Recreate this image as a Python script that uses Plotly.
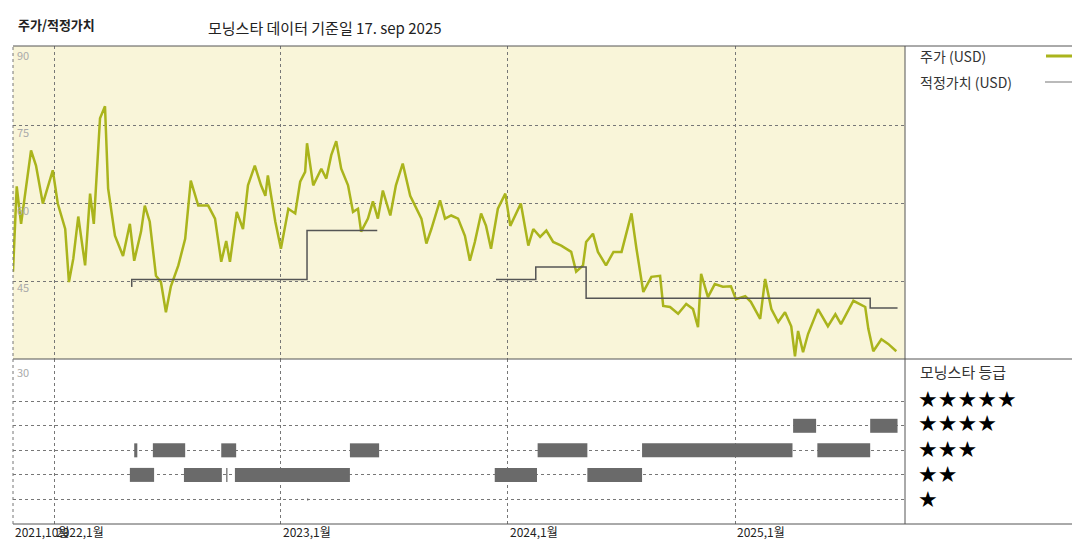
import plotly.graph_objects as go
import pandas as pd

start_date = "2021-10-27"
price_days = [0,6,13,21,29,37,48,60,64,72,84,90,97,105,116,124,130,140,148,153,164,177,188,195,206,212,220,230,238,246,254,266,277,286,298,314,325,335,343,349,360,370,378,389,399,406,410,422,431,443,454,462,470,473,483,496,504,512,520,528,539,547,555,560,571,579,587,595,607,616,627,639,649,657,665,673,687,695,705,716,727,735,743,753,761,769,780,792,800,808,817,829,837,848,858,869,882,898,906,917,922,933,941,954,966,979,987,995,1003,1014,1027,1041,1046,1057,1070,1083,1094,1102,1107,1118,1129,1142,1155,1163,1178,1187,1202,1210,1220,1231,1242,1252,1258,1263,1271,1279,1295,1311,1323,1332,1352,1371,1376,1384,1397,1408,1421]
price_vals = [46.8,63.2,56,63.4,70.1,67.2,59.9,64.7,66.3,59.9,55,44.8,49.3,57.4,48,61.8,56,76.3,78.6,62.8,53.7,49.8,56,48.9,54.5,59.5,56.4,46,44.8,39,44,48,53.1,64.3,59.5,59.5,57,48.7,52.7,48.7,58.3,55,63.4,67.2,63.4,61.4,65.3,56.4,51.2,58.9,58,64.1,66,71.5,63.4,66.6,64.7,69.2,71.9,66.6,63.4,58.3,58.9,54.5,57,60.3,57,62.4,57.6,63.4,67.6,61.4,58.9,57,52.2,55,60.5,57,57.6,57,53.7,48.9,52.5,58,55.6,51.2,58.9,61.8,55.6,57.6,59.9,51.8,55,53.5,54.7,52.5,51.8,50.6,46.8,48,52.5,54.1,50.6,48,50.6,50.6,54.5,58,51.2,42.9,45.8,46,40.2,40,38.7,40.6,39.6,36.1,46.4,41.9,44.4,43.9,44,41.5,42.1,41,37.7,45.4,39.6,37.1,39,36.3,30.5,35.4,31.3,34.8,39.6,36.3,38.6,36.7,41.2,40,35.8,31.5,33.8,32.9,31.5]
assert len(price_days) == len(price_vals)
price_dates = pd.to_datetime(start_date) + pd.to_timedelta(price_days, unit="D")

fair_segments = [
    (["2022-05-05", "2022-05-06", "2023-02-12", "2023-06-05"], [44.0, 45.3, 54.7, 54.7]),
    (["2023-12-13", "2024-02-15", "2024-05-06", "2025-08-06", "2025-09-19"], [45.3, 47.7, 41.7, 39.8, 39.8]),
]

rating_segments = {
    3: [("2022-05-10", "2022-05-15"), ("2022-06-09", "2022-07-31"), ("2022-09-27", "2022-10-21"),
        ("2023-04-22", "2023-06-08"), ("2024-02-18", "2024-05-08"), ("2024-08-04", "2025-04-03"),
        ("2025-05-13", "2025-08-06")],
    2: [("2022-05-03", "2022-06-11"), ("2022-07-29", "2022-09-28"), ("2022-10-05", "2022-10-07"),
        ("2022-10-19", "2023-04-22"), ("2023-12-11", "2024-02-17"), ("2024-05-08", "2024-08-04")],
    4: [("2025-04-04", "2025-05-11"), ("2025-08-06", "2025-09-19")],
    1: [("2023-02-12", "2023-02-14")],
}

year_ticks = ["2022-01-01", "2023-01-01", "2024-01-01", "2025-01-01"]
year_labels = ["2022,1월", "2023,1월", "2024,1월", "2025,1월"]
price_ticks = [90, 75, 60, 45, 30]
legend_names = ["주가 (USD)", "적정가치 (USD)"]
star_labels = ["★★★★★", "★★★★", "★★★", "★★", "★"]

W, H = 1080, 540
px = lambda x: x / W
py = lambda y: 1 - y / H
FONT = "Noto Sans CJK KR"
GREEN = "#AAB41C"

fig = go.Figure()
fig.add_trace(go.Scatter(x=price_dates, y=price_vals, mode="lines",
                         line=dict(color=GREEN, width=2.5), xaxis="x", yaxis="y", showlegend=False))
for d, v in fair_segments:
    fig.add_trace(go.Scatter(x=d, y=v, mode="lines", line=dict(color="#555555", width=1.5, shape="hv"),
                             xaxis="x", yaxis="y", showlegend=False))
for r, segs in rating_segments.items():
    xs, ys = [], []
    for a, b in segs:
        xs += [a, b, None]
        ys += [r, r, None]
    w = 2 if r == 1 else 14
    fig.add_trace(go.Scatter(x=xs, y=ys, mode="lines", line=dict(color="#6a6a6a", width=w),
                             xaxis="x2", yaxis="y2", showlegend=False))

xr = ["2021-10-27", "2025-10-01"]
dom = [px(5), px(897)]
grid = dict(showgrid=True, gridcolor="#777", griddash="dot", gridwidth=1, zeroline=False, showticklabels=False, ticks="")
fig.update_layout(
    width=W, height=H, margin=dict(l=0, r=0, t=0, b=0),
    paper_bgcolor="white", plot_bgcolor="rgba(0,0,0,0)",
    xaxis=dict(domain=dom, range=xr, type="date", tickvals=year_ticks, anchor="y", **grid),
    yaxis=dict(domain=[py(351), py(38)], range=[30, 90.2], tickvals=[45, 60, 75], anchor="x", **grid),
    xaxis2=dict(domain=dom, range=xr, type="date", tickvals=year_ticks, anchor="y2", **grid),
    yaxis2=dict(domain=[py(516), py(351)], range=[0, 6.72], tickvals=[1, 2, 3, 4, 5], anchor="x2", **grid),
)

shapes = [
    dict(type="rect", xref="paper", yref="paper", x0=px(5), x1=px(897), y0=py(351), y1=py(38),
         fillcolor="#F9F5D9", line=dict(width=0), layer="below"),
    dict(type="line", xref="paper", yref="paper", x0=px(5), x1=1, y0=py(38), y1=py(38), line=dict(color="#555", width=1)),
    dict(type="line", xref="paper", yref="paper", x0=px(5), x1=1, y0=py(351), y1=py(351), line=dict(color="#555", width=1)),
    dict(type="line", xref="paper", yref="paper", x0=px(5), x1=1, y0=py(516), y1=py(516), line=dict(color="#555", width=1)),
    dict(type="line", xref="paper", yref="paper", x0=px(897), x1=px(897), y0=py(516), y1=py(38), line=dict(color="#555", width=1)),
    dict(type="line", xref="paper", yref="paper", x0=px(5), x1=px(5), y0=py(516), y1=py(38), line=dict(color="#777", width=1, dash="dot")),
    dict(type="line", xref="paper", yref="paper", x0=px(1038), x1=px(1072), y0=py(48), y1=py(48), line=dict(color=GREEN, width=3)),
    dict(type="line", xref="paper", yref="paper", x0=px(1037), x1=px(1072), y0=py(74), y1=py(74), line=dict(color="#777", width=1.2)),
]
fig.update_layout(shapes=shapes)

ann = [
    dict(text="<b>주가/적정가치</b>", x=px(8), y=py(17), font=dict(size=13, color="#222")),
    dict(text="모닝스타 데이터 기준일 17. sep 2025", x=px(198), y=py(20), font=dict(size=15, color="#222")),
    dict(text=legend_names[0], x=px(910), y=py(48), font=dict(size=14, color="#333")),
    dict(text=legend_names[1], x=px(910), y=py(74), font=dict(size=14, color="#333")),
    dict(text="모닝스타 등급", x=px(910), y=py(363), font=dict(size=15, color="#333")),
    dict(text="2021,10월", x=px(5), y=py(523), font=dict(size=12, color="#222")),
]
star_y = [391, 415, 441, 466, 491]
for s, yy in zip(star_labels, star_y):
    ann.append(dict(text=s, x=px(908), y=py(yy), font=dict(size=22, color="black", family="DejaVu Sans")))
for t, lbl, xx in zip(year_ticks, year_labels, [46, 273, 500, 727]):
    ann.append(dict(text=lbl, x=px(xx), y=py(523), font=dict(size=12, color="#222")))
for v, yy in zip(price_ticks, [47, 124, 202, 279, 364]):
    ann.append(dict(text=str(v), x=px(7), y=py(yy), font=dict(size=11, color="#aaa")))
for a in ann:
    a.update(xref="paper", yref="paper", xanchor="left", yanchor="middle", showarrow=False)
    a["font"].setdefault("family", FONT)
fig.update_layout(annotations=ann)
fig.write_html("out.html")
